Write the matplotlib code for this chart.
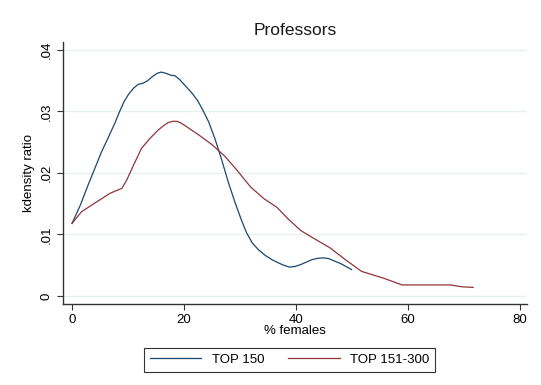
import matplotlib.pyplot as plt
from matplotlib.ticker import FuncFormatter

plt.rcParams['font.family'] = ['Liberation Sans', 'DejaVu Sans']

# TOP 150 kernel density ratio
top150_x = [0, 1.5, 2.9, 4.1, 5.3, 6.5, 7.7, 8.5, 9.3, 10.1, 11.0, 11.8, 12.7,
            13.5, 14.4, 15.2, 15.9, 16.8, 17.6, 18.4, 19.2, 20.1, 21.4, 22.4,
            23.2, 24.4, 25.5, 26.7, 27.9, 29.1, 30.3, 31.2, 32.2, 33.3, 34.5,
            35.7, 36.8, 37.8, 38.8, 39.8, 40.8, 41.8, 42.8, 43.7, 44.7, 45.8,
            46.8, 47.9, 48.9, 49.9]
top150_y = [0.0118, 0.0148, 0.0181, 0.0208, 0.0235, 0.0258, 0.0282, 0.0300,
            0.0316, 0.0328, 0.0338, 0.0344, 0.0346, 0.0350, 0.0357, 0.0362,
            0.0364, 0.0362, 0.0359, 0.0358, 0.0352, 0.0343, 0.0330, 0.0318,
            0.0305, 0.0283, 0.0256, 0.0222, 0.0185, 0.0152, 0.0122, 0.0102,
            0.0086, 0.0075, 0.0066, 0.0059, 0.0054, 0.0050, 0.0047, 0.0048,
            0.0051, 0.0055, 0.0059, 0.0061, 0.0062, 0.0061, 0.0057, 0.0053,
            0.0048, 0.0043]

# TOP 151-300
top300_x = [0, 1.7, 4.4, 6.8, 8.9, 9.8, 11.0, 12.4, 13.9, 15.4, 16.5, 17.2,
            18.0, 18.7, 19.5, 20.5, 22.6, 25.0, 27.3, 29.4, 31.9, 34.3, 36.6,
            38.6, 40.9, 43.1, 46.1, 48.8, 51.7, 55.6, 58.9, 67.5, 69.6, 71.6]
top300_y = [0.0118, 0.0137, 0.0153, 0.0167, 0.0175, 0.0189, 0.0213, 0.0240,
            0.0256, 0.0270, 0.0278, 0.0282, 0.0284, 0.0284, 0.0281, 0.0275,
            0.0262, 0.0246, 0.0227, 0.0205, 0.0177, 0.0158, 0.0144, 0.0125,
            0.0106, 0.0094, 0.0078, 0.0059, 0.0040, 0.0029, 0.0018, 0.0018,
            0.0015, 0.0014]

xticks = [0, 20, 40, 60, 80]
yticks = [0, 0.01, 0.02, 0.03, 0.04]

fig = plt.figure(figsize=(5.41, 3.85), dpi=100)
ax = fig.add_axes([0.1165, 0.2104, 0.8575, 0.6806])

ax.plot(top150_x, top150_y, color='#1a476f', lw=0.9, label='TOP 150')
ax.plot(top300_x, top300_y, color='#90353b', lw=0.9, label='TOP 151-300')

ax.set_xlim(-1.6, 81.2)
ax.set_ylim(-0.0013, 0.0413)
ax.set_xticks(xticks)
ax.set_yticks(yticks)

def yfmt(v, pos):
    if abs(v) < 1e-9:
        return '0'
    return ('%.2f' % v).lstrip('0')

ax.yaxis.set_major_formatter(FuncFormatter(yfmt))
for lbl in ax.get_yticklabels():
    lbl.set_rotation(90)
    lbl.set_va('center')

ax.grid(axis='y', color='#e8f0f2', lw=1.0)
ax.set_axisbelow(True)
for s in ['top', 'right']:
    ax.spines[s].set_visible(False)
for s in ['left', 'bottom']:
    ax.spines[s].set_color('#333333')
    ax.spines[s].set_linewidth(1.0)
ax.tick_params(colors='#333333', labelcolor='black', labelsize=9.5, length=4)

ax.set_title('Professors', fontsize=12.5, color='#1a1a1a', pad=5)
ax.set_xlabel('% females', fontsize=9.5, labelpad=-1)
ax.set_ylabel('kdensity ratio', fontsize=9.5, labelpad=4)

leg = fig.legend(loc='center', bbox_to_anchor=(0.5355, 0.065), ncol=2,
                 fontsize=9.5, frameon=True, fancybox=False, edgecolor='black',
                 handlelength=3.9, columnspacing=1.8, borderpad=0.45)
leg.get_frame().set_linewidth(0.8)

fig.savefig('out.png', dpi=100, facecolor='white')
